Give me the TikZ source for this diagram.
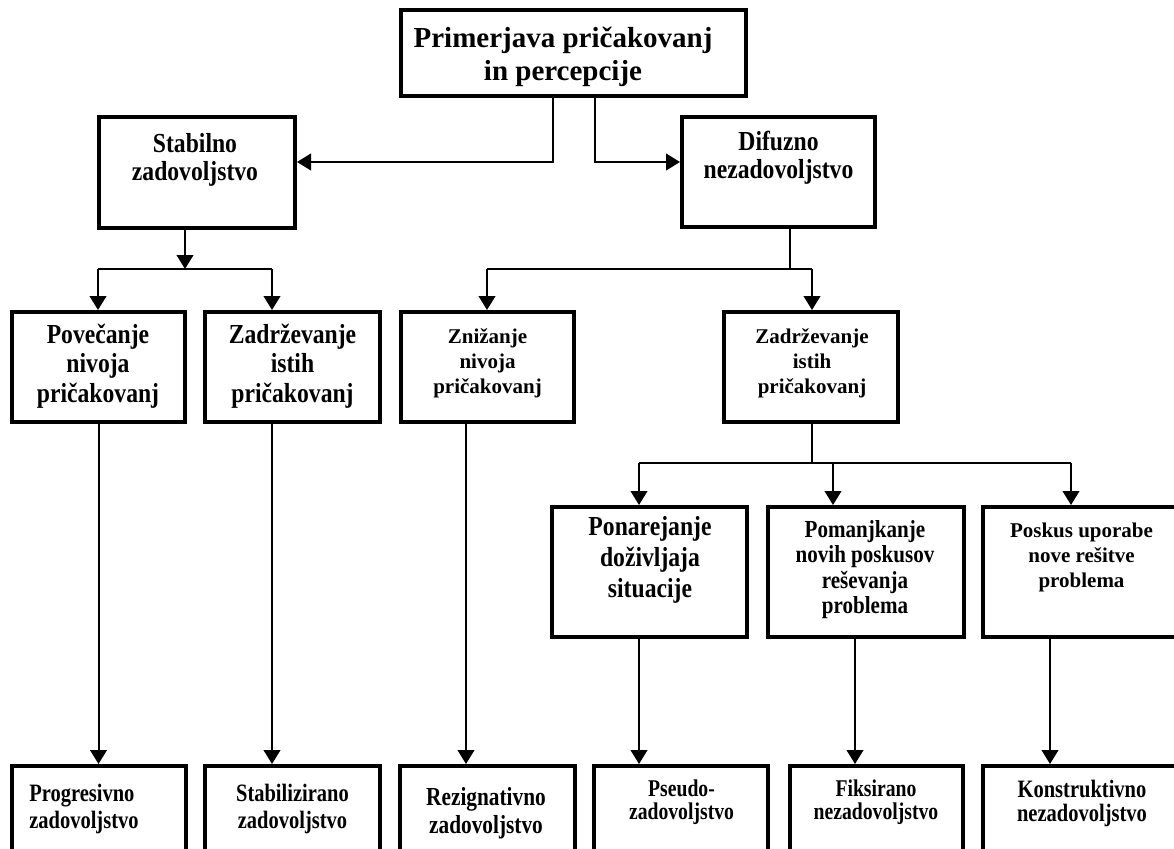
\documentclass[tikz,border=0pt]{standalone}
\usepackage{fontspec}
\setmainfont{Liberation Serif}
\newfontfamily\narrowA{Liberation Serif}[FakeStretch=0.86]
\newfontfamily\narrowC{Liberation Serif}[FakeStretch=0.82]
\usetikzlibrary{arrows.meta}

% font size and line spacing given in pixels (1px = 0.75pt)
\newcommand\pxfont[2]{\fontsize{\dimexpr #1pt*3/4\relax}{\dimexpr #2pt*3/4\relax}\selectfont}
% stacked lines whose reference point is the baseline of the first line
\newcommand\txtlines[2][c]{\begin{tabular}[t]{@{}#1@{}}#2\end{tabular}}

\begin{document}
\begin{tikzpicture}[x=0.75pt,y=-0.75pt,
  box/.style 2 args={draw, line width=3pt, rectangle, inner sep=0pt,
    minimum width=#1*0.75pt, minimum height=#2*0.75pt},
  lbl/.style={inner sep=0pt, anchor=base, font=\bfseries},
  ln/.style={line width=1.5pt},
  arr/.style={ln, -{Triangle[length=10.5pt,width=12.5pt]}}]

\useasboundingbox (0,0) rectangle (1174,849);
\fill[white] (0,0) rectangle (1174,849);
\clip (0,0) rectangle (1174,849);

% ---------- boxes ----------
\node[box={345}{86}]  (top)   at (573.5,53)  {};
\node[box={196}{111}] (stab)  at (197,172.5) {};
\node[box={193}{110}] (dif)   at (778.5,172) {};

\node[box={173}{110}] (pov)   at (98.5,367)  {};
\node[box={175}{110}] (zad1)  at (292.5,367) {};
\node[box={173}{110}] (zniz)  at (487.5,367) {};
\node[box={174}{110}] (zad2)  at (811,367)   {};

\node[box={195}{130}] (pon)   at (649.5,572) {};
\node[box={196}{130}] (pom)   at (866,572)   {};
\node[box={197}{130}] (pos)   at (1081.5,572){};

\node[box={174}{134}] (prog)  at (99,833)    {};
\node[box={175}{134}] (stabz) at (292.5,833) {};
\node[box={175}{134}] (rez)   at (487.5,833) {};
\node[box={174}{134}] (pse)   at (681,833)   {};
\node[box={173}{134}] (fik)   at (876.5,833) {};
\node[box={197}{134}] (kon)   at (1081.5,833){};

% ---------- labels ----------
\node[lbl] (ttop) at (563,48) {\pxfont{29}{33}\txtlines{Primerjava pričakovanj\\in percepcije}};
\node[lbl] (tstab) at (195,152) {\narrowA\bfseries\pxfont{27.5}{28}\txtlines{Stabilno\\zadovoljstvo}};
\node[lbl] (tdif) at (778.5,150) {\narrowA\bfseries\pxfont{27.5}{28}\txtlines{Difuzno\\nezadovoljstvo}};

\node[lbl] (tpov) at (98,343) {\narrowA\bfseries\pxfont{27.5}{29.5}\txtlines{Povečanje\\nivoja\\pričakovanj}};
\node[lbl] (tzad1) at (292.5,343) {\narrowA\bfseries\pxfont{27.5}{29.5}\txtlines{Zadrževanje\\istih\\pričakovanj}};
\node[lbl] (tzniz) at (487.5,343) {\pxfont{21}{25}\txtlines{Znižanje\\nivoja\\pričakovanj}};
\node[lbl] (tzad2) at (812,343) {\pxfont{21}{25}\txtlines{Zadrževanje\\istih\\pričakovanj}};

\node[lbl] (tpon) at (650,535) {\narrowA\bfseries\pxfont{27.5}{31}\txtlines{Ponarejanje\\doživljaja\\situacije}};
\node[lbl] (tpom) at (865,537) {\narrowA\bfseries\pxfont{24.5}{25.5}\txtlines{Pomanjkanje\\novih poskusov\\reševanja\\problema}};
\node[lbl] (tpos) at (1081.5,537) {\pxfont{21}{25}\txtlines{Poskus uporabe\\nove rešitve\\problema}};

\node[lbl, anchor=base west] (tprog) at (29,801) {\narrowC\bfseries\pxfont{25}{27}\txtlines[l]{Progresivno\\zadovoljstvo}};
\node[lbl] (tstabz) at (292.5,801) {\narrowC\bfseries\pxfont{25}{27}\txtlines{Stabilizirano\\zadovoljstvo}};
\node[lbl] (trez) at (486,805) {\narrowC\bfseries\pxfont{26}{28}\txtlines{Rezignativno\\zadovoljstvo}};
\node[lbl] (tpse) at (681.5,796) {\narrowC\bfseries\pxfont{24}{23}\txtlines{Pseudo-\\zadovoljstvo}};
\node[lbl] (tfik) at (876,796) {\narrowC\bfseries\pxfont{24}{23}\txtlines{Fiksirano\\nezadovoljstvo}};
\node[lbl] (tkon) at (1082,797) {\narrowC\bfseries\pxfont{25}{24}\txtlines{Konstruktivno\\nezadovoljstvo}};

% ---------- junction points ----------
\coordinate (tl) at (553,162);
\coordinate (tr) at (595,162);
\coordinate (sj) at (185,269);
\coordinate (sa) at (98,269);
\coordinate (sb) at (272,269);
\coordinate (dj) at (790,269);
\coordinate (da) at (487,269);
\coordinate (db) at (812,269);
\coordinate (zj) at (812,463);
\coordinate (za) at (639,463);
\coordinate (zb) at (833,463);
\coordinate (zc) at (1071,463);
\coordinate (v2) at (272,600);
\coordinate (v3) at (466,600);
\coordinate (v5) at (855,700);
\coordinate (v6) at (1050,700);

% ---------- connectors ----------
\draw[arr] (top.south -| tl) -- (tl) -- (stab.east |- tl);
\draw[arr] (top.south -| tr) -- (tr) -- (dif.west |- tr);

\draw[arr] (stab.south -| sj) -- (sj);
\draw[ln] (sa) -- (sb);
\draw[arr] (sa) -- (pov.north -| sa);
\draw[arr] (sb) -- (zad1.north -| sb);

\draw[ln] (dif.south -| dj) -- (dj);
\draw[ln] (da) -- (db);
\draw[arr] (da) -- (zniz.north -| da);
\draw[arr] (db) -- (zad2.north -| db);

\draw[ln] (zad2.south -| zj) -- (zj);
\draw[ln] (za) -- (zc);
\draw[arr] (za) -- (pon.north -| za);
\draw[arr] (zb) -- (pom.north -| zb);
\draw[arr] (zc) -- (pos.north -| zc);

\draw[arr] (pov.south) -- (pov.south |- prog.north);
\draw[arr] (zad1.south -| v2) -- (stabz.north -| v2);
\draw[arr] (zniz.south -| v3) -- (rez.north -| v3);
\draw[arr] (pon.south -| za) -- (pse.north -| za);
\draw[arr] (pom.south -| v5) -- (fik.north -| v5);
\draw[arr] (pos.south -| v6) -- (kon.north -| v6);
\end{tikzpicture}
\end{document}
